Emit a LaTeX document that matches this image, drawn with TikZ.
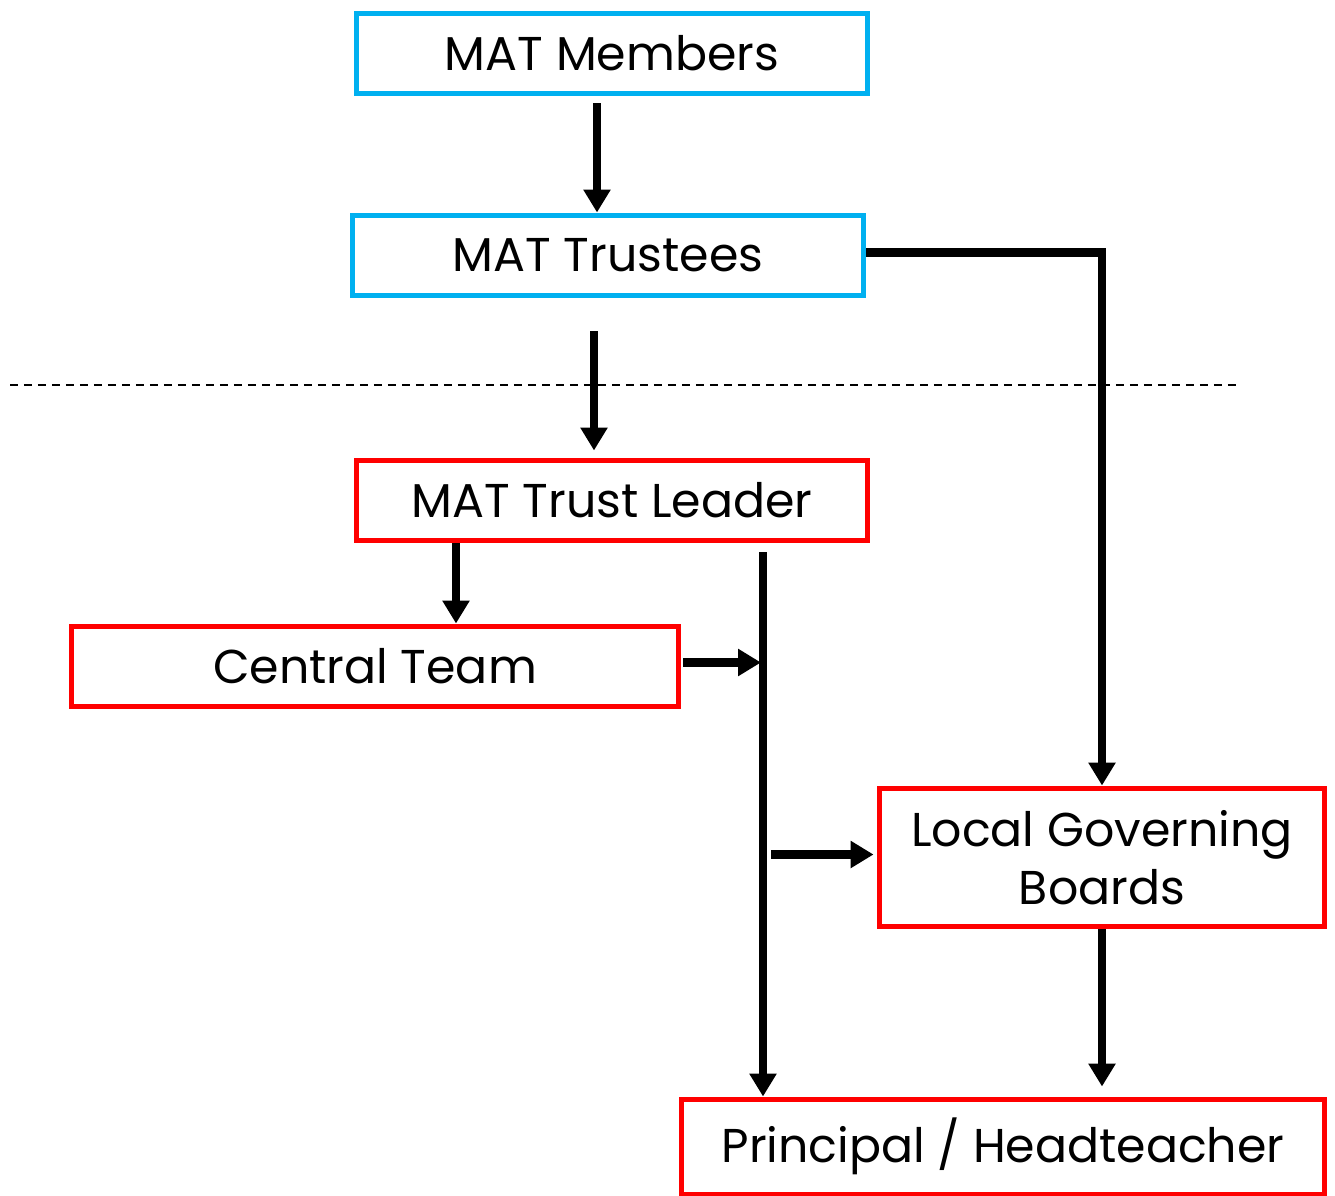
\documentclass[tikz,border=0pt]{standalone}
\usepackage{fontspec}
\setmainfont{Poppins}
\usetikzlibrary{arrows.meta, calc}

\definecolor{boxblue}{RGB}{0,176,240}
\definecolor{boxred}{RGB}{255,0,0}

\begin{document}
\begin{tikzpicture}[x=0.02cm, y=-0.02cm,
  box/.style={draw, line width=0.1cm, minimum width=#1, minimum height=1.62cm, inner sep=0pt, align=center,
    font=\fontsize{27}{33}\selectfont},
  bluebox/.style={box=#1, draw=boxblue},
  redbox/.style={box=#1, draw=boxred},
  arrowline/.style={line width=0.17cm, -{Triangle[width=0.52cm, length=0.46cm]}}]
\useasboundingbox (0, 0) rectangle (1335, 1196);

\draw[line width=0.04cm, dash pattern=on 0.16cm off 0.12cm] (10, 385) -- (1237, 385);

\node[bluebox=10.24cm] (members) at (612, 53.5) {MAT Members};
\node[bluebox=10.24cm] (trustees) at (608, 255.5) {MAT Trustees};
\node[redbox=10.24cm] (leader) at (612, 500.5) {MAT Trust Leader};
\node[redbox=12.16cm] (central) at (375, 666.5) {Central Team};
\node[redbox=8.92cm, minimum height=2.78cm] (lgb) at (1102, 857.5) {Local Governing\\Boards};
\node[redbox=12.88cm, minimum height=1.9cm] (principal) at (1003, 1146.5) {Principal / Headteacher};

\coordinate (spinetop) at (763, 552);

\draw[arrowline] ($(members.south)+(-15, 7)$) -- ($(trustees.north)+(-11, 0)$);
\draw[arrowline] ($(trustees.south)+(-14, 33)$) -- ($(leader.north)+(-18, -7)$);
\draw[arrowline] ($(trustees.east)+(0, -3)$) -| (lgb.north);
\draw[arrowline] ($(leader.south)+(-156, 0)$) -- ($(central.north)+(81, 0)$);
\draw[arrowline] (spinetop) -- (spinetop |- principal.north);
\draw[arrowline] ($(central.east)+(2, -4)$) -- ($(central.east -| spinetop)+(-2, -4)$);
\draw[arrowline] ($(lgb.west -| spinetop)+(8, -3)$) -- ($(lgb.west)+(-3, -3)$);
\draw[arrowline] (lgb.south) -- ($(lgb.south |- principal.north)+(0, -10)$);
\end{tikzpicture}
\end{document}
